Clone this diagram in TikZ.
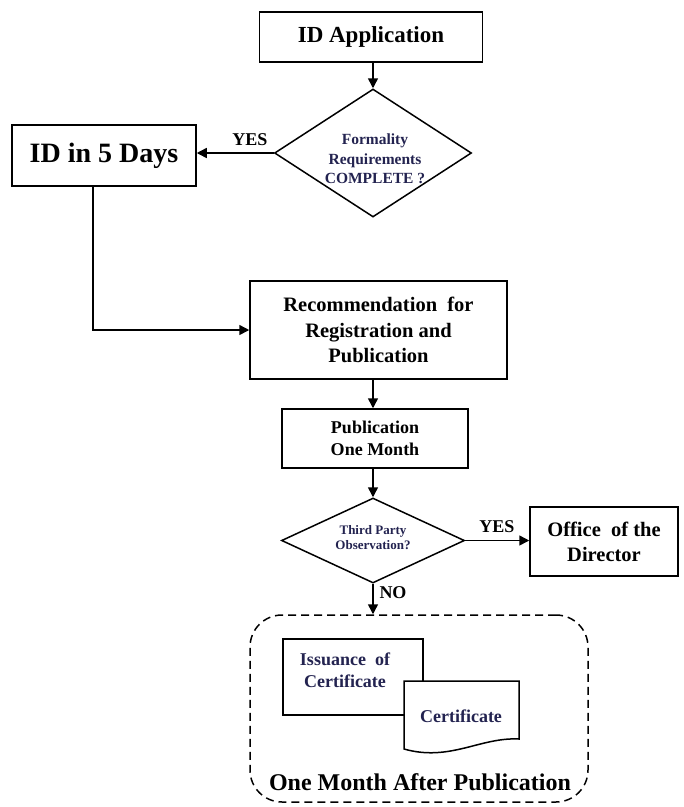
\documentclass[tikz,border=0pt]{standalone}
\usepackage{fontspec}
\setmainfont{Liberation Serif}
\usetikzlibrary{shapes.geometric,arrows.meta}
\definecolor{navy}{RGB}{35,35,80}
\newcommand{\fsz}[2]{\fontsize{#1}{#2}\selectfont\bfseries}
\tikzset{
  box/.style={draw, line width=1.5pt, fill=white, inner sep=0pt, align=center},
  dia/.style={draw, diamond, line width=1.5pt, inner sep=0pt, aspect=1.5},
  lbl/.style={inner sep=0pt, align=center},
  arr/.style={line width=1.5pt, -{Triangle[length=10pt,width=10pt]}},
}
\begin{document}
\begin{tikzpicture}[x=1pt,y=-1pt]
\useasboundingbox (0,0) rectangle (684,807);
% boxes
\node[box, minimum width=223pt, minimum height=50pt, font={\fsz{23}{26}}] (app) at (371,37) {ID Application};
\node[dia, minimum width=197pt, minimum height=128pt] (d1) at (373,153) {};
\node[lbl, text=navy, font={\fsz{15.5}{19.5}}] (d1t) at (375,159) {Formality\\Requirements\\COMPLETE ?};
\node[box, minimum width=184pt, minimum height=61pt, font={\fsz{28}{30}}] (five) at (104,155.5) {ID in 5 Days};
\node[lbl, font={\fsz{18}{20}}] (yes1) at (250,140) {YES};
\node[box, minimum width=257pt, minimum height=98pt, font={\fsz{20.5}{25.5}}] (rec) at (378.5,330) {Recommendation\ \ for\\Registration and\\Publication};
\node[box, minimum width=186pt, minimum height=59pt, font={\fsz{18}{22}}] (pub) at (375,438.5) {Publication\\One Month};
\node[dia, minimum width=183pt, minimum height=85pt] (d2) at (373,540.5) {};
\node[lbl, text=navy, font={\fsz{13}{15}}] (d2t) at (373,538) {Third Party\\Observation?};
\node[lbl, font={\fsz{18}{20}}] (yes2) at (497,527) {YES};
\node[box, minimum width=148pt, minimum height=69pt, font={\fsz{20.5}{25}}] (off) at (604,541.5) {Office\ \ of the\\Director};
\node[lbl, font={\fsz{18}{20}}] (no) at (393,593) {NO};
% dashed group
\node[draw, dash pattern=on 8pt off 5pt, line width=1.5pt, rounded corners=32pt, minimum width=338pt, minimum height=187pt, inner sep=0pt] (grp) at (419,708.5) {};
\node[box, minimum width=140pt, minimum height=76pt] (iss) at (353,677) {};
\node[lbl, text=navy, font={\fsz{18}{22}}] (isst) at (345,670) {Issuance\ \ of\\Certificate};
\draw[line width=1.5pt, fill=white] (404,681) -- (519,681) -- (519,739) .. controls (480,737) and (450,762) .. (404,749) -- cycle;
\node[lbl, text=navy, font={\fsz{18}{22}}] (cert) at (461,716) {Certificate};
\node[lbl, font={\fsz{24}{26}}] (grpt) at (420,782) {One Month After Publication};
% connectors
\draw[arr] (app.south -| d1.north) -- (d1.north);
\draw[arr] (d1.west) -- (d1.west -| five.east);
\draw[arr] ([xshift=-11pt]five.south) |- (rec.west);
\draw[arr] (rec.south -| d1.north) -- (pub.north -| d1.north);
\draw[arr] (pub.south -| d2.north) -- (d2.north);
\draw[arr] (d2.east) -- (d2.east -| off.west);
\draw[arr] (d2.south) -- (grp.north -| d2.south);
\end{tikzpicture}
\end{document}
